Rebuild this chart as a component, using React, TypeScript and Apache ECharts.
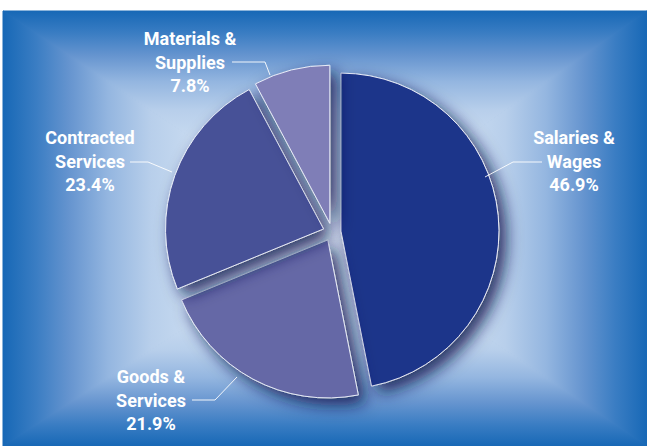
import React, { useEffect, useRef } from "react";
import * as echarts from "echarts";

const categories = ["Salaries &\nWages", "Goods &\nServices", "Contracted\nServices", "Materials &\nSupplies"];
const shares = [46.9, 21.9, 23.4, 7.8];
const sliceColors = ["#1f348a", "#6567a6", "#475197", "#7f7eb7"];

// label placement (annotation layout, not data)
const labelCenters = [
  [574, 161],
  [151, 400],
  [90, 161],
  [190, 62],
];
const leaderPoints = [
  [[485, 177], [513, 162], [542, 162]],
  [[237, 377], [215, 400], [192, 400]],
  [[172, 172], [148, 162], [130, 162]],
  [[270, 75], [265, 62], [232, 62]],
];

const bgStops = [
  { offset: 0, color: "#1768b6" },
  { offset: 0.1, color: "#3a7dc3" },
  { offset: 0.2, color: "#6594cf" },
  { offset: 0.32, color: "#94b6e0" },
  { offset: 0.45, color: "#b8cfeb" },
  { offset: 0.6, color: "#cadcf1" },
  { offset: 1, color: "#dbe7f5" },
];

export default function App() {
  const ref = useRef<HTMLDivElement>(null);
  useEffect(() => {
    if (!ref.current) return;
    const chart = echarts.init(ref.current, undefined, { renderer: "svg" });
    const X0 = 3, Y0 = 11, X1 = 647, Y1 = 446, CX = 332, CY = 232;
    const lg = (x: number, y: number, x2: number, y2: number) => ({
      type: "linear", x, y, x2, y2, colorStops: bgStops,
    });
    const tri = (pts: number[][], g: any) => ({
      type: "polygon",
      z: -9,
      silent: true,
      shape: { points: pts },
      style: { fill: g, stroke: g, lineWidth: 1 },
    });
    const labelEls: any[] = [];
    categories.forEach((name, i) => {
      labelEls.push({
        type: "polyline",
        z: 5,
        silent: true,
        shape: { points: leaderPoints[i] },
        style: { stroke: "rgba(255,255,255,0.9)", lineWidth: 1, fill: null },
      });
      labelEls.push({
        type: "text",
        z: 6,
        silent: true,
        style: {
          text: name + "\n" + shares[i] + "%",
          x: labelCenters[i][0],
          y: labelCenters[i][1],
          align: "center",
          verticalAlign: "middle",
          fill: "#ffffff",
          fontFamily: "Roboto",
          fontWeight: "bold",
          fontSize: 18,
          lineHeight: 23.5,
        },
      });
    });
    const option: any = {
      animation: false,
      backgroundColor: "#ffffff",
      graphic: [
        { type: "rect", z: -10, silent: true, shape: { x: X0, y: Y0, width: X1 - X0, height: Y1 - Y0 }, style: { fill: "#4a86c8" } },
        tri([[X0, Y0], [X1, Y0], [CX, CY]], lg(0, 0, 0, 1)),
        tri([[X0, Y1], [X1, Y1], [CX, CY]], lg(0, 1, 0, 0)),
        tri([[X0, Y0], [X0, Y1], [CX, CY]], lg(0, 0, 1, 0)),
        tri([[X1, Y0], [X1, Y1], [CX, CY]], lg(1, 0, 0, 0)),
        ...labelEls,
      ],
      series: [
        {
          type: "pie",
          center: [CX, CY],
          radius: 158,
          startAngle: 90,
          clockwise: true,
          avoidLabelOverlap: false,
          selectedMode: "multiple",
          selectedOffset: 9,
          emphasis: { disabled: true },
          label: { show: false },
          labelLine: { show: false },
          itemStyle: {
            borderColor: "#e8ecf8",
            borderWidth: 1,
            shadowBlur: 16,
            shadowColor: "rgba(10,18,80,0.85)",
            shadowOffsetX: 7,
            shadowOffsetY: 7,
          },
          data: categories.map((name, i) => ({
            name,
            value: shares[i],
            selected: true,
            itemStyle: { color: sliceColors[i] },
            select: {
              itemStyle: {
                color: sliceColors[i],
                borderColor: "#e8ecf8",
                borderWidth: 1,
              },
            },
          })),
        },
      ],
    };
    chart.setOption(option);
    return () => chart.dispose();
  }, []);
  return (
    <div
      ref={ref}
      style={{ position: "fixed", left: 0, top: 0, width: 647, height: 446 }}
    />
  );
}
